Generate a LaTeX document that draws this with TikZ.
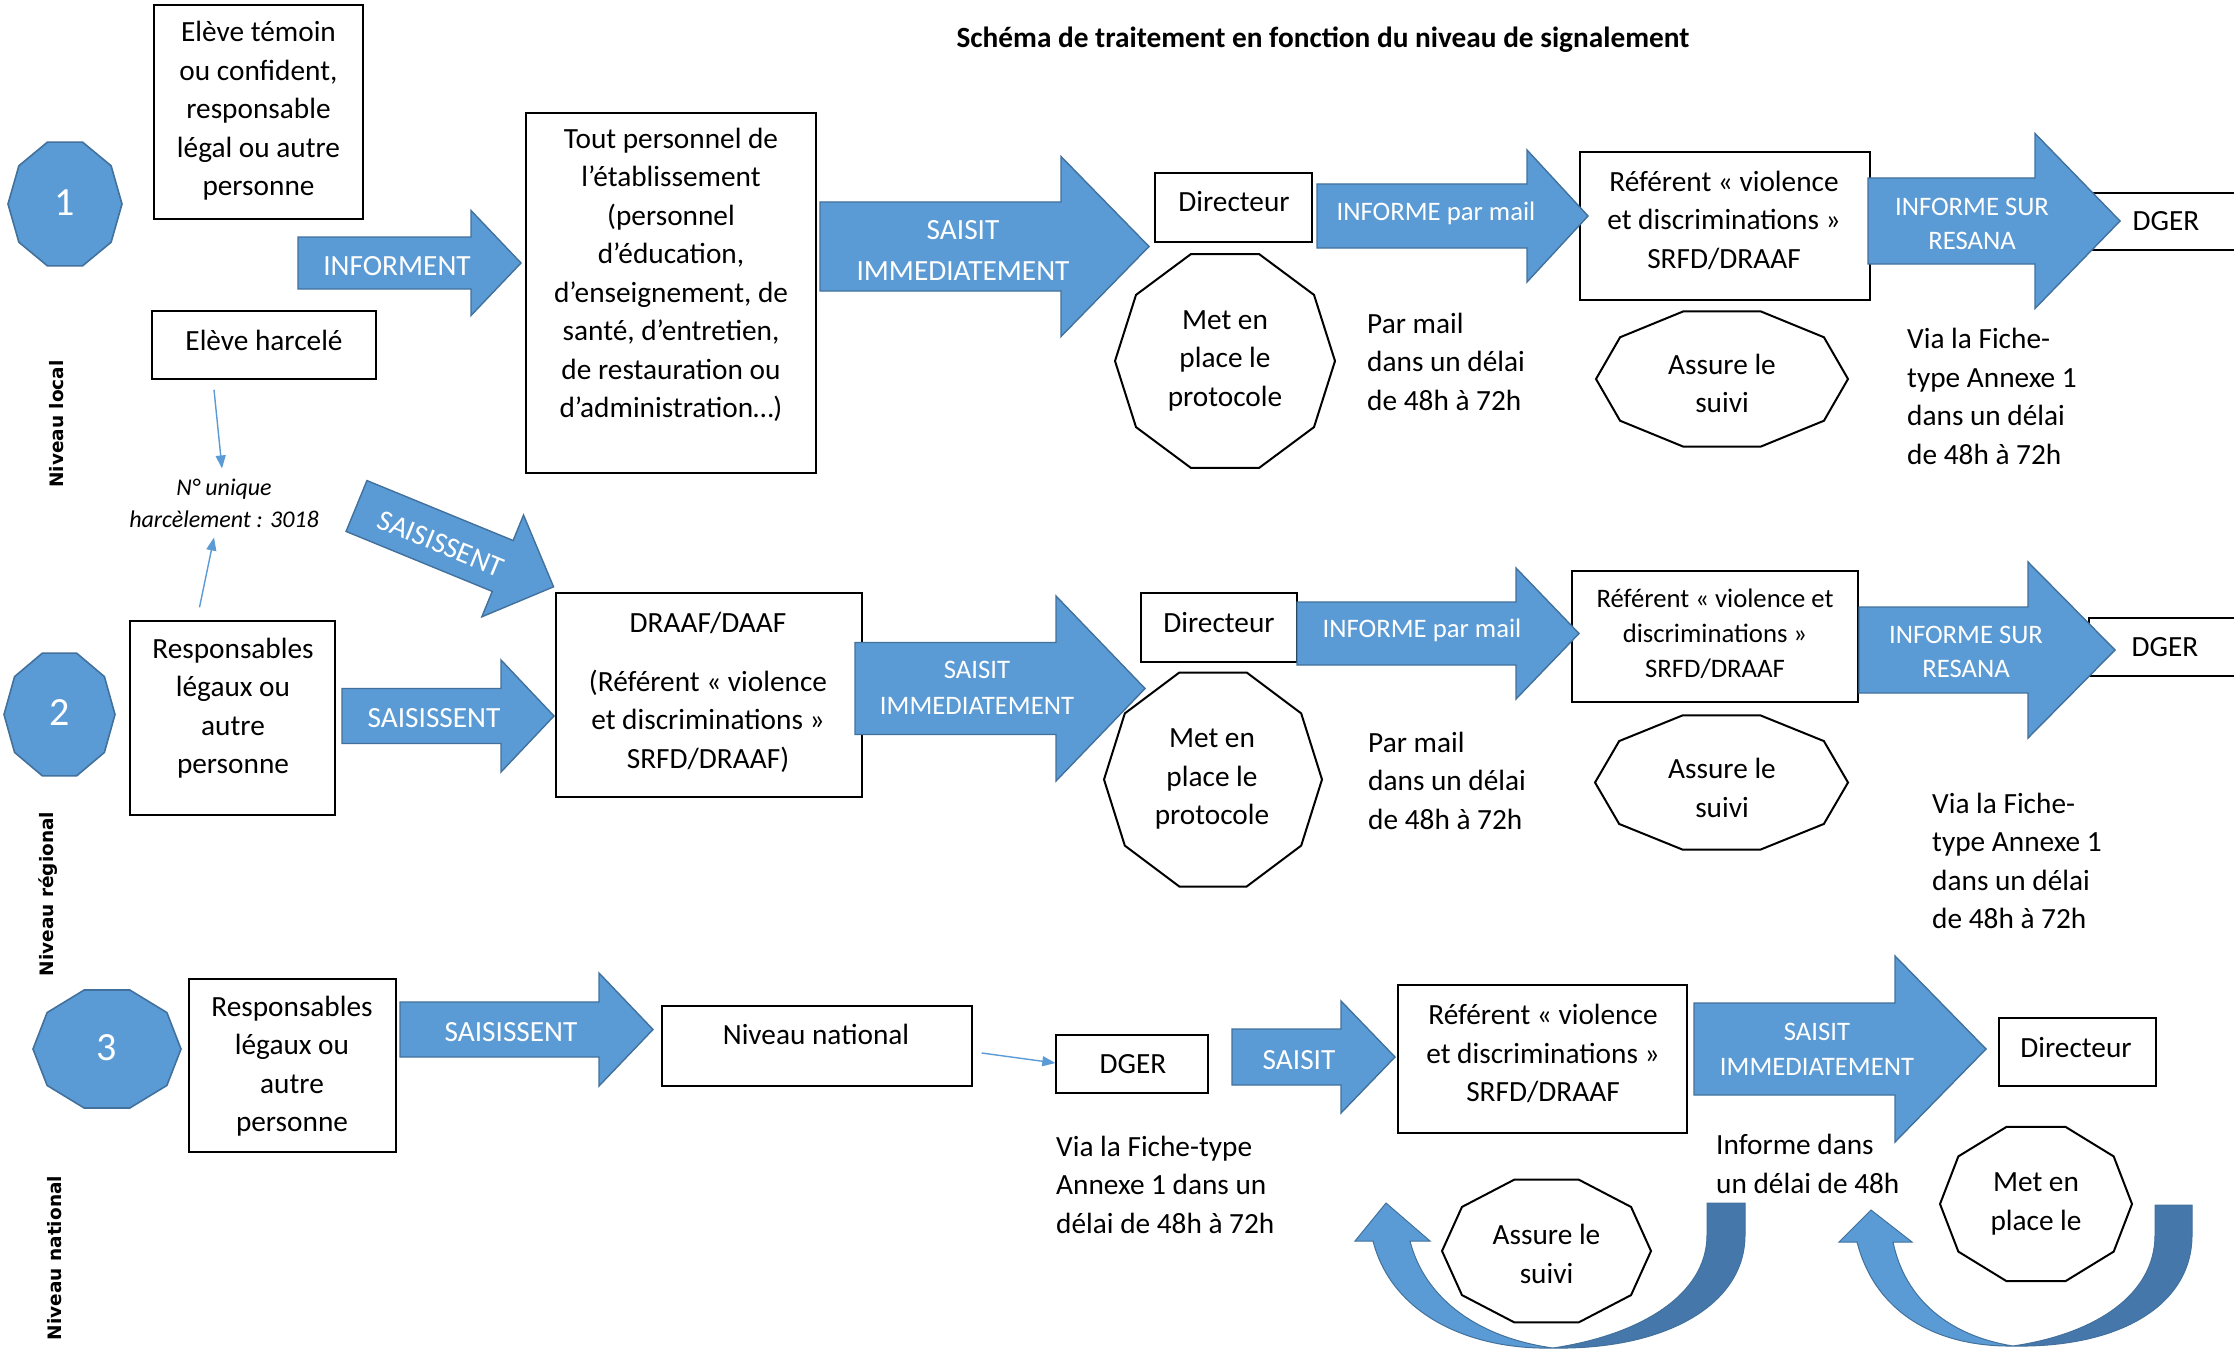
\documentclass[tikz,border=0pt]{standalone}
\usepackage{fontspec}
\setmainfont{Carlito}
\newfontfamily\lblfont{DejaVu Sans}
\usetikzlibrary{arrows.meta}
\definecolor{abl}{HTML}{5B9BD5}
\definecolor{abd}{HTML}{41719C}
\definecolor{adk}{HTML}{4677AB}
\newcommand{\fbig}{\fontsize{29.3}{38.5}\selectfont}
\newcommand{\fsmall}{\fontsize{26.7}{35}\selectfont}
\newcommand{\fnum}{\fontsize{24}{32}\selectfont}
% x0 (shaft start), x1 (head start), x2 (tip), yc, shaft half height, head half height
\newcommand{\blockarr}[6]{%
  \filldraw[barrow] (#1,#4-#5) -- (#2,#4-#5) -- (#2,#4-#6) -- (#3,#4) -- (#2,#4+#6) -- (#2,#4+#5) -- (#1,#4+#5) -- cycle;}
% cx, cy, rx, ry, style
\newcommand{\decagon}[5]{%
  \filldraw[#5,shift={(#1,#2)}] (0:#3 and #4) -- (36:#3 and #4) -- (72:#3 and #4) -- (108:#3 and #4) -- (144:#3 and #4) -- (180:#3 and #4) -- (216:#3 and #4) -- (252:#3 and #4) -- (288:#3 and #4) -- (324:#3 and #4) -- cycle;}
\tikzset{
  box/.style={draw=black, line width=1.4pt, fill=white, inner sep=0pt},
  barrow/.style={fill=abl, draw=abd, line width=1.4pt},
  deco/.style={draw=black, line width=2pt, fill=white},
  numoct/.style={fill=abl, draw=abd, line width=1.6pt},
  numt/.style={text=white, font={\fontsize{40}{40}\selectfont}, inner sep=0pt},
  wt/.style={text=white, font=\fbig, align=center, inner sep=0pt},
  wts/.style={text=white, font=\fsmall, align=center, inner sep=0pt},
  bt/.style={font=\fbig, align=center, inner sep=0pt},
  bts/.style={font=\fsmall, align=center, inner sep=0pt},
  lt/.style={font=\fbig, align=left, anchor=west, inner sep=0pt},
  vlab/.style={font={\lblfont\bfseries\fontsize{18.5}{22}\selectfont}, rotate=90, inner sep=0pt},
  conn/.style={draw=abl, line width=1.4pt, -{Triangle[length=13pt,width=10pt]}},
}
\begin{document}
\begin{tikzpicture}[x=1pt,y=-1pt]
\useasboundingbox (0,0) rectangle (2234,1351);
\fill[white] (0,0) rectangle (2234,1351);
\clip (0,0) rectangle (2234,1351);

% ---------- title ----------
\node[font={\bfseries\fbig}, inner sep=0pt] (title) at (1323,40) {Schéma de traitement en fonction du niveau de signalement};

% ---------- boxes ----------
\node[box, minimum width=209pt, minimum height=214pt] (temoin) at (258.5,112) {};
\node[box, minimum width=224pt, minimum height=68pt] (harc) at (264,345) {};
\node[box, minimum width=290pt, minimum height=360pt] (perso) at (671,293) {};
\node[box, minimum width=157pt, minimum height=69pt] (dir1) at (1233.5,207.5) {};
\node[box, minimum width=290pt, minimum height=148pt] (ref1) at (1725,226) {};
\node[box, minimum width=170pt, minimum height=57pt] (dger1) at (2175,221.5) {};

\node[box, minimum width=205pt, minimum height=194pt] (resp2) at (232.5,718) {};
\node[box, minimum width=306pt, minimum height=204pt] (draaf) at (709,695) {};
\node[box, minimum width=156pt, minimum height=69pt] (dir2) at (1219,627.5) {};
\node[box, minimum width=286pt, minimum height=131pt] (ref2) at (1715,636.5) {};
\node[box, minimum width=171pt, minimum height=58pt] (dger2) at (2174.5,647) {};

\node[box, minimum width=207pt, minimum height=173pt] (resp3) at (292.5,1065.5) {};
\node[box, minimum width=310pt, minimum height=80pt] (nat) at (817,1046) {};
\node[box, minimum width=152pt, minimum height=58pt] (dger3) at (1132,1064) {};
\node[box, minimum width=289pt, minimum height=148pt] (ref3) at (1542.5,1059) {};
\node[box, minimum width=157pt, minimum height=68pt] (dir3) at (2077.5,1052) {};

% ---------- decagons ----------
\decagon{65}{204}{57}{65}{numoct}
\decagon{59.5}{714.5}{55.5}{64.5}{numoct}
\decagon{107}{1049}{74}{62}{numoct}
\decagon{1225}{361}{110}{112.5}{deco}
\decagon{1722}{379}{126}{71}{deco}
\decagon{1213}{779.5}{109}{112.5}{deco}
\decagon{1721.5}{782.5}{126.5}{70.5}{deco}
\decagon{1546.5}{1251}{104.5}{75}{deco}
\decagon{2036}{1204}{96}{81}{deco}

% ---------- block arrows ----------
\blockarr{298}{471}{521}{263}{26}{52.5}
\blockarr{820}{1061}{1149}{246.5}{44.5}{90}
\blockarr{1317}{1527}{1588}{216}{32}{66}
\blockarr{1868}{2035}{2120}{221}{43}{87.5}

\begin{scope}[shift={(356.5,506)}, rotate=-22.3]
  \filldraw[barrow] (0,-27.5) -- (158,-27.5) -- (158,-55) -- (213,0) -- (158,55) -- (158,27.5) -- (0,27.5) -- cycle;
\end{scope}
\blockarr{342}{501}{554}{716}{27.5}{56}
\blockarr{855}{1056}{1145}{688.5}{46}{92.5}
\blockarr{1297}{1516}{1579}{633.5}{31.5}{65.5}
\blockarr{1859}{2028}{2115}{650}{43}{88}

\blockarr{400}{599}{653}{1029.5}{27.5}{56.5}
\blockarr{1232}{1341}{1395}{1057}{28}{56}
\blockarr{1694}{1895}{1986}{1049}{46}{93}

% ---------- U-turn arrows ----------
\filldraw[fill=abl, draw=abd, line width=1pt] (1373,1241) .. controls (1392,1315) and (1470,1350) .. (1553,1348)
  .. controls (1480,1338) and (1425,1300) .. (1410,1241) -- (1430,1241) -- (1386,1203) -- (1355,1241) -- cycle;
\filldraw[fill=adk, draw=abd, line width=1pt] (1745,1203) -- (1745,1235) .. controls (1745,1305) and (1665,1350) .. (1553,1348)
  .. controls (1640,1335) and (1707,1295) .. (1707,1235) -- (1707,1203) -- cycle;
\filldraw[fill=abl, draw=abd, line width=1pt] (1857,1242) .. controls (1875,1312) and (1935,1347) .. (2013,1346)
  .. controls (1950,1336) and (1905,1300) .. (1893,1242) -- (1912,1242) -- (1871,1210) -- (1839,1242) -- cycle;
\filldraw[fill=adk, draw=abd, line width=1pt] (2192,1205) -- (2192,1235) .. controls (2192,1305) and (2120,1348) .. (2013,1346)
  .. controls (2095,1334) and (2155,1295) .. (2155,1235) -- (2155,1205) -- cycle;

% ---------- texts ----------
\node[numt] (n1) at (65,203) {1};
\node[numt] (n2) at (59.5,713) {2};
\node[numt] (n3) at (107,1048) {3};

\node[bt] (temoin-t) at (258.5,111) {Elève témoin\\ou confident,\\responsable\\légal ou autre\\personne};
\node[wt] (informent) at (397,266) {INFORMENT};
\node[bt] (harc-t) at (264,340) {Elève harcelé};
\node[font={\fnum\itshape}, align=center, inner sep=0pt] (num) at (224,503) {N° unique\\harcèlement : 3018};
\node[bt] (perso-t) at (671,275) {Tout personnel de\\l’établissement\\(personnel\\d’éducation,\\d’enseignement, de\\santé, d’entretien,\\de restauration ou\\d’administration…)};
\node[wt, font={\fontsize{29.3}{40.5}\selectfont}] (saisit1) at (963,250.5) {SAISIT\\IMMEDIATEMENT};
\node[bt] (dir1-t) at (1234,202) {Directeur};
\node[bt] (mep1-t) at (1225,360.5) {Met en\\place le\\protocole};
\node[wts] (inf1) at (1436,213) {INFORME par mail};
\node[lt] (pm1) at (1367,361.5) {Par mail\\dans un délai\\de 48h à 72h};
\node[bt] (ref1-t) at (1724,220) {Référent « violence\\et discriminations »\\SRFD/DRAAF};
\node[bt] (as1-t) at (1722,383.5) {Assure le\\suivi};
\node[wts, font={\fontsize{26.7}{34}\selectfont}] (res1) at (1972,224) {INFORME SUR\\RESANA};
\node[bt] (dger1-t) at (2166,221) {DGER};
\node[lt] (via1) at (1907,396.5) {Via la Fiche-\\type Annexe 1\\dans un délai\\de 48h à 72h};
\node[vlab] (lvl1) at (57,424) {Niveau local};

\node[bt] (resp2-t) at (233,708) {Responsables\\légaux ou\\autre\\personne};
\node[wt, rotate=-22.3] (sais0) at (441,544) {SAISISSENT};
\node[wt] (sais2) at (434,718) {SAISISSENT};
\node[bt] (draaf-t1) at (708,623) {DRAAF/DAAF};
\node[bt] (draaf-t2) at (708,721) {(Référent « violence\\et discriminations »\\SRFD/DRAAF)};
\node[wts, font={\fontsize{26.7}{36}\selectfont}] (saisit2) at (977,688) {SAISIT\\IMMEDIATEMENT};
\node[bt] (dir2-t) at (1219,623) {Directeur};
\node[bt] (mep2-t) at (1212,779) {Met en\\place le\\protocole};
\node[wts] (inf2) at (1422,630) {INFORME par mail};
\node[lt] (pm2) at (1368,780.5) {Par mail\\dans un délai\\de 48h à 72h};
\node[bts] (ref2-t) at (1715,634) {Référent « violence et\\discriminations »\\SRFD/DRAAF};
\node[bt] (as2-t) at (1722,788) {Assure le\\suivi};
\node[wts, font={\fontsize{26.7}{34}\selectfont}] (res2) at (1966,652) {INFORME SUR\\RESANA};
\node[bt] (dger2-t) at (2165,647) {DGER};
\node[lt] (via2) at (1932,861) {Via la Fiche-\\type Annexe 1\\dans un délai\\de 48h à 72h};
\node[vlab] (lvl2) at (48,894) {Niveau régional};

\node[bt] (resp3-t) at (292,1066) {Responsables\\légaux ou\\autre\\personne};
\node[wt] (sais3) at (511,1032) {SAISISSENT};
\node[bt] (nat-t) at (816,1034) {Niveau national};
\node[bt] (dger3-t) at (1133,1064) {DGER};
\node[lt] (via3) at (1056,1184.5) {Via la Fiche-type\\Annexe 1 dans un\\délai de 48h à 72h};
\node[wt] (saisit3a) at (1299,1060) {SAISIT};
\node[bt] (ref3-t) at (1543,1053.5) {Référent « violence\\et discriminations »\\SRFD/DRAAF};
\node[wts] (saisit3) at (1817,1049.5) {SAISIT\\IMMEDIATEMENT};
\node[bt] (dir3-t) at (2076,1048) {Directeur};
\node[lt] (inf3) at (1716,1164) {Informe dans\\un délai de 48h};
\node[bt] (as3-t) at (1546.5,1254) {Assure le\\suivi};
\node[bt] (mep3-t) at (2036,1204) {Met en\\place le};
\node[vlab] (lvl3) at (55,1258) {Niveau national};

% ---------- thin connectors ----------
\draw[conn] ([xshift=-50pt,yshift=-10pt]harc.south) -- ([xshift=-2pt,yshift=10pt]num.north);
\draw[conn] ([xshift=-33pt,yshift=13pt]resp2.north) -- ([xshift=-10pt,yshift=-10pt]num.south);
\draw[conn] ([xshift=9pt,yshift=-7pt]nat.east) -- ([yshift=1pt]dger3.west);
\end{tikzpicture}
\end{document}
